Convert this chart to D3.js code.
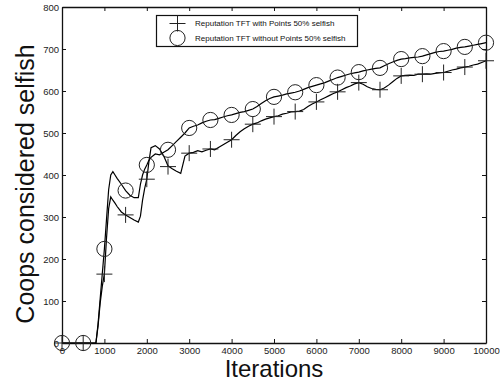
<!DOCTYPE html>
<html>
<head>
<meta charset="utf-8">
<script src="https://cdn.jsdelivr.net/npm/d3@7"></script>
<style>
  body { margin: 0; background: #fff; }
  svg { font-family: "Liberation Sans", Arial, Helvetica, sans-serif; }
</style>
</head>
<body>
<div id="chart"></div>
<script>
const width = 504, height = 385;

// iterations sampled for the traces
const lineIter = [0, 500, 800, 850, 900, 950, 1000, 1050, 1100, 1150, 1200, 1250, 1300, 1400, 1500,
  1600, 1700, 1800, 1850, 1900, 1950, 2000, 2050, 2100, 2200, 2300, 2400, 2500, 2600, 2700, 2800, 2900,
  3000, 3100, 3200, 3300, 3400, 3500, 3600, 3700, 3800, 3900, 4000, 4100, 4200, 4300, 4400, 4500,
  4600, 4700, 4800, 4900, 5000, 5100, 5200, 5300, 5400, 5500, 5600, 5700, 5800, 5900, 6000,
  6100, 6200, 6300, 6400, 6500, 6600, 6700, 6800, 6900, 7000, 7100, 7200, 7300, 7400, 7500,
  7600, 7700, 7800, 7900, 8000, 8100, 8200, 8300, 8400, 8500, 8600, 8700, 8800, 8900, 9000,
  9100, 9200, 9300, 9400, 9500, 9600, 9700, 9800, 9900, 10000];

// Reputation TFT with Points 50% selfish
const withPoints = [0, 0, 0, 40, 95, 135, 165, 250, 320, 348, 340, 333, 325, 312, 305,
  299, 293, 288, 302, 340, 368, 390, 432, 465, 470, 462, 445, 422, 415, 409, 404, 445,
  452, 454, 458, 455, 459, 462, 460, 466, 472, 478, 484, 494, 503, 510, 516, 521,
  524, 529, 533, 536, 539, 541, 545, 547, 550, 551, 552, 556, 563, 569, 574,
  579, 584, 589, 594, 598, 603, 608, 612, 617, 620, 616, 610, 606, 604, 603,
  607, 614, 622, 630, 636, 637, 638, 637, 640, 640, 641, 640, 642, 643, 644,
  647, 650, 652, 655, 657, 659, 662, 664, 668, 672];

// Reputation TFT without Points 50% selfish
const withoutPoints = [0, 0, 0, 45, 105, 165, 224, 295, 365, 400, 408, 400, 392, 378, 363,
  352, 346, 346, 378, 400, 414, 424, 435, 442, 450, 448, 454, 460, 470, 480, 490, 500,
  512, 516, 519, 524, 528, 531, 532, 535, 538, 541, 543, 546, 549, 551, 554, 557,
  563, 570, 577, 582, 586, 588, 590, 593, 595, 597, 600, 604, 608, 611, 614,
  617, 620, 624, 628, 632, 635, 638, 641, 643, 645, 648, 650, 652, 654, 655,
  660, 665, 669, 673, 676, 677, 679, 680, 681, 683, 686, 689, 692, 694, 695,
  697, 699, 702, 704, 705, 707, 709, 711, 713, 715];

// marker positions
const markerIter = [0, 500, 1000, 1500, 2000, 2500, 3000, 3500, 4000, 4500, 5000,
  5500, 6000, 6500, 7000, 7500, 8000, 8500, 9000, 9500, 10000];
const plusMarks = [0, 0, 164, 305, 390, 420, 452, 462, 484, 521, 539,
  551, 574, 598, 620, 603, 636, 640, 644, 657, 672];
const circleMarks = [0, 0, 224, 363, 424, 460, 512, 531, 543, 557, 586,
  597, 614, 632, 645, 655, 676, 683, 695, 705, 715];

const legendLabels = ["Reputation TFT with Points 50% selfish", "Reputation TFT without Points 50% selfish"];
const xTicks = d3.range(0, 10001, 1000);
const yTicks = d3.range(0, 801, 100);

const margin = {top: 7, right: 18, bottom: 42, left: 62};

const x = d3.scaleLinear().domain([0, 10000]).range([margin.left, width - margin.right]);
const y = d3.scaleLinear().domain([0, 800]).range([height - margin.bottom, margin.top]);

const svg = d3.select("#chart").append("svg")
    .attr("width", width)
    .attr("height", height);

// axes, ticks pointing inwards on all four sides
function styleAxis(g) {
  g.selectAll("path").attr("stroke", "#111").attr("stroke-width", 1.3);
  g.selectAll("line").attr("stroke", "#111");
  g.selectAll("text").attr("fill", "#222").style("font-size", "9.5px");
}

svg.append("g")
    .attr("transform", "translate(0," + y(0) + ")")
    .call(d3.axisBottom(x).tickValues(xTicks).tickFormat(d3.format("d"))
      .tickSize(-4).tickSizeOuter(0).tickPadding(4))
    .call(styleAxis);

svg.append("g")
    .attr("transform", "translate(0," + y(800) + ")")
    .call(d3.axisTop(x).tickValues(xTicks).tickSize(-4).tickSizeOuter(0).tickFormat(""))
    .call(styleAxis);

svg.append("g")
    .attr("transform", "translate(" + x(0) + ",0)")
    .call(d3.axisLeft(y).tickValues(yTicks).tickSize(-4).tickSizeOuter(0).tickPadding(3))
    .call(styleAxis);

svg.append("g")
    .attr("transform", "translate(" + x(10000) + ",0)")
    .call(d3.axisRight(y).tickValues(yTicks).tickSize(-4).tickSizeOuter(0).tickFormat(""))
    .call(styleAxis);

// axis titles
svg.append("text")
    .attr("x", 274)
    .attr("y", 377)
    .attr("text-anchor", "middle")
    .style("font-size", "24px")
    .attr("fill", "#111")
    .text("Iterations");

svg.append("text")
    .attr("transform", "translate(34,184) rotate(-90)")
    .attr("text-anchor", "middle")
    .style("font-size", "25px")
    .attr("fill", "#111")
    .text("Coops considered selfish");

// traces
const line = d3.line()
    .x((d, i) => x(lineIter[i]))
    .y(d => y(d));

[withPoints, withoutPoints].forEach(series => {
  svg.append("path")
      .datum(series)
      .attr("fill", "none")
      .attr("stroke", "#000")
      .attr("stroke-width", 1.2)
      .attr("d", line);
});

const plusSize = 8, circleR = 7.6;

function drawPlus(g, cx, cy) {
  g.append("path")
      .attr("d", "M" + (cx - plusSize) + "," + cy + "H" + (cx + plusSize) +
                 "M" + cx + "," + (cy - plusSize) + "V" + (cy + plusSize))
      .attr("stroke", "#222")
      .attr("stroke-width", 1)
      .attr("fill", "none");
}

function drawCircle(g, cx, cy) {
  g.append("circle")
      .attr("cx", cx)
      .attr("cy", cy)
      .attr("r", circleR)
      .attr("stroke", "#222")
      .attr("stroke-width", 1)
      .attr("fill", "none");
}

const marks = svg.append("g");
markerIter.forEach((it, i) => {
  drawPlus(marks, x(it), y(plusMarks[i]));
  drawCircle(marks, x(it), y(circleMarks[i]));
});

// legend
const legend = svg.append("g");
legend.append("rect")
    .attr("x", 156.5)
    .attr("y", 15.5)
    .attr("width", 201)
    .attr("height", 31)
    .attr("fill", "#fff")
    .attr("stroke", "#111")
    .attr("stroke-width", 1.2);

drawPlus(legend, 177.5, 23.5);
drawCircle(legend, 177.5, 38);

legendLabels.forEach((label, i) => {
  legend.append("text")
      .attr("x", 195)
      .attr("y", 23.5 + i * 14.5)
      .attr("dy", "0.35em")
      .style("font-size", "8px")
      .attr("fill", "#111")
      .text(label);
});
</script>
</body>
</html>
